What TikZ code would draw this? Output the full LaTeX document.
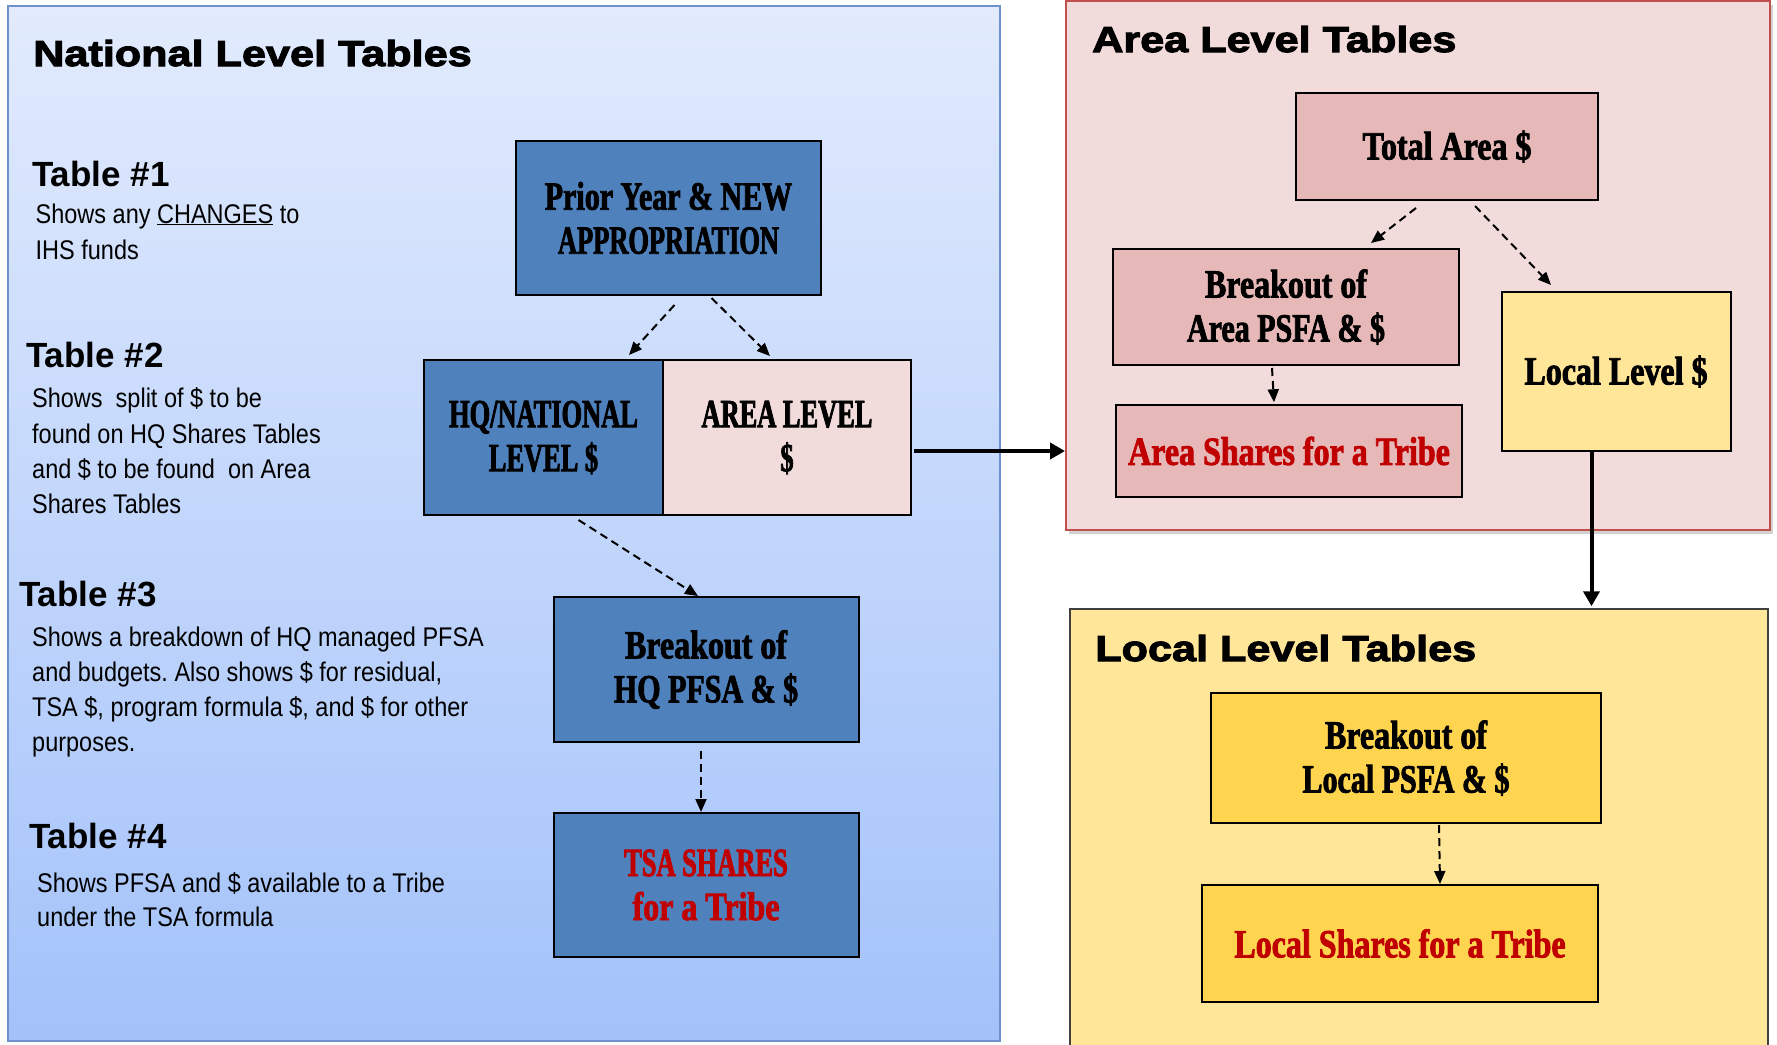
\documentclass[tikz,border=0pt]{standalone}
\usepackage{fontspec}
\setmainfont{Liberation Sans}
\frenchspacing
\newfontfamily\titlefont{Liberation Sans}[UprightFont={* Bold},FakeStretch=1.2,FakeBold=3]
\newfontfamily\headfont{Liberation Sans}[UprightFont={* Bold}]
\newfontfamily\bodyfont{Liberation Sans}[FakeStretch=0.87]
\newfontfamily\boxfont{Liberation Serif}[UprightFont={* Bold},FakeStretch=0.80,FakeBold=2]
\newfontfamily\boxmid{Liberation Serif}[UprightFont={* Bold},FakeStretch=0.75,FakeBold=2]
\newfontfamily\boxcaps{Liberation Serif}[UprightFont={* Bold},FakeStretch=0.66,FakeBold=2]
\usetikzlibrary{arrows.meta,calc,shadows}
\definecolor{natTop}{RGB}{226,235,253}
\definecolor{natBot}{RGB}{163,194,250}
\definecolor{natBorder}{RGB}{110,145,205}
\definecolor{boxBlue}{RGB}{79,129,189}
\definecolor{pinkLight}{RGB}{242,220,219}
\definecolor{pinkMid}{RGB}{230,185,184}
\definecolor{areaBorder}{RGB}{192,80,77}
\definecolor{yelLight}{RGB}{255,230,153}
\definecolor{yelMid}{RGB}{255,213,79}
\definecolor{darkRed}{RGB}{192,0,0}
\begin{document}
\begin{tikzpicture}[x=1pt,y=-1pt,
  panel/.style={rectangle, inner sep=0pt},
  fbox/.style={rectangle, draw=black, line width=2pt, inner sep=0pt, align=center,
    font=\boxfont\fontsize{40}{44}\selectfont},
  title/.style={anchor=base west, inner sep=0pt, font=\titlefont\fontsize{36}{40}\selectfont},
  head/.style={anchor=base west, inner sep=0pt, font=\headfont\fontsize{35}{40}\selectfont},
  body/.style={anchor=base west, inner sep=0pt, font=\bodyfont\fontsize{27}{34}\selectfont},
  dasharrow/.style={line width=2pt, dash pattern=on 8pt off 5pt, -{Triangle[length=13pt,width=11pt]}},
  solidarrow/.style={line width=4pt, -{Triangle[length=15pt,width=16pt]}}
]
\useasboundingbox (0,0) rectangle (1777,1044);
\fill[white] (0,0) rectangle (1777,1044);

% panels
\node[panel, draw=natBorder, line width=1.5pt, top color=natTop, bottom color=natBot,
  minimum width=992pt, minimum height=1035pt] (natpanel) at (504,523.5) {};
\node[panel, draw=areaBorder, line width=2pt, fill=pinkLight,
  drop shadow={shadow xshift=3pt, shadow yshift=-4pt, opacity=0.35},
  minimum width=704pt, minimum height=529pt] (areapanel) at (1418,265.5) {};
\node[panel, draw=black!75, line width=1.5pt, fill=yelLight,
  minimum width=698pt, minimum height=441pt] (localpanel) at (1419,829.5) {};

% titles
\node[title] (nattitle) at (33,66) {National Level Tables};
\node[title] (areatitle) at (1092,52) {Area Level Tables};
\node[title] (localtitle) at (1095,661) {Local Level Tables};

% left texts
\node[head] (t1) at (32,186) {Table \#1};
\node[body] (t1a) at (35.5,223) {Shows any \underline{CHANGES} to};
\node[body] (t1b) at (35.5,259) {IHS funds};

\node[head] (t2) at (26,367) {Table \#2};
\node[body] (t2a) at (32,407) {Shows\ \ split of \$ to be};
\node[body] (t2b) at (32,443) {found on HQ Shares Tables};
\node[body] (t2c) at (32,478) {and \$ to be found\ \ on Area};
\node[body] (t2d) at (32,513) {Shares Tables};

\node[head] (t3) at (19,606) {Table \#3};
\node[body] (t3a) at (32,646) {Shows a breakdown of HQ managed PFSA};
\node[body] (t3b) at (32,681.5) {and budgets. Also shows \$ for residual,};
\node[body] (t3c) at (32,716) {TSA \$, program formula \$, and \$ for other};
\node[body] (t3d) at (32,751) {purposes.};

\node[head] (t4) at (29,848) {Table \#4};
\node[body] (t4a) at (37,892) {Shows PFSA and \$ available to a Tribe};
\node[body] (t4b) at (37,926) {under the TSA formula};

% national boxes
\node[fbox, fill=boxBlue, minimum width=305pt, minimum height=154pt] (prior) at (668.5,218) {{\boxmid Prior Year \& NEW}\\{\boxcaps APPROPRIATION}};
\node[fbox, fill=boxBlue, minimum width=239pt, minimum height=155pt] (hq) at (543.5,437.5) {\boxcaps HQ/NATIONAL\\\boxcaps LEVEL \$};
\node[fbox, fill=pinkLight, minimum width=248pt, minimum height=155pt] (arealvl) at (787,437.5) {\boxcaps AREA LEVEL\\\boxcaps \$};
\node[fbox, fill=boxBlue, minimum width=305pt, minimum height=145pt] (bhq) at (706,669.5) {Breakout of\\{\boxmid HQ PFSA \& \$}};
\node[fbox, fill=boxBlue, minimum width=305pt, minimum height=144pt, text=darkRed] (tsa) at (706,885) {{\boxcaps TSA SHARES}\\for a Tribe};

% area boxes
\node[fbox, fill=pinkMid, minimum width=302pt, minimum height=107pt] (total) at (1447,146.5) {Total Area \$};
\node[fbox, fill=pinkMid, minimum width=346pt, minimum height=116pt] (barea) at (1286,307) {Breakout of\\{\boxmid Area PSFA \& \$}};
\node[fbox, fill=pinkMid, minimum width=346pt, minimum height=91.5pt, text=darkRed] (ashares) at (1289,451) {Area Shares for a Tribe};
\node[fbox, fill=yelLight, minimum width=229pt, minimum height=159pt] (locallvl) at (1616,371.5) {Local Level \$};

% local boxes
\node[fbox, fill=yelMid, minimum width=390pt, minimum height=130pt] (blocal) at (1406,758) {Breakout of\\{\boxmid Local PSFA \& \$}};
\node[fbox, fill=yelMid, minimum width=396pt, minimum height=117pt, text=darkRed] (lshares) at (1400,943.5) {Local Shares for a Tribe};

% connectors
\draw[dasharrow] ($(prior.south)+(6,9)$) -- ($(hq.north east)+(-35,-4)$);
\draw[dasharrow] ($(prior.south)+(43,2)$) -- ($(arealvl.north west)+(108,-3)$);
\draw[dasharrow] ($(hq.south)+(35,4)$) -- ($(bhq.north)+(-8,0)$);
\draw[dasharrow] ($(bhq.south)+(-5,8)$) -- ($(tsa.north)+(-5,0)$);

\draw[dasharrow] ($(total.south)+(-31,7)$) -- ($(barea.north)+(85,-5)$);
\draw[dasharrow] ($(total.south)+(28,5)$) -- ($(locallvl.north)+(-65,-6)$);
\draw[dasharrow] ($(barea.south)+(-14,2)$) -- ($(ashares.north)+(-15,-2)$);
\draw[dasharrow] ($(blocal.south)+(33,1)$) -- ($(lshares.north)+(40,0)$);

\coordinate (s1) at ($(arealvl.east)+(2,13.5)$);
\draw[solidarrow] (s1) -- (s1 -| areapanel.west);
\coordinate (s2) at ($(locallvl.south)+(-24.5,0)$);
\draw[solidarrow] (s2) -- ($(s2 |- localpanel.north)+(0,-2)$);
\end{tikzpicture}
\end{document}
